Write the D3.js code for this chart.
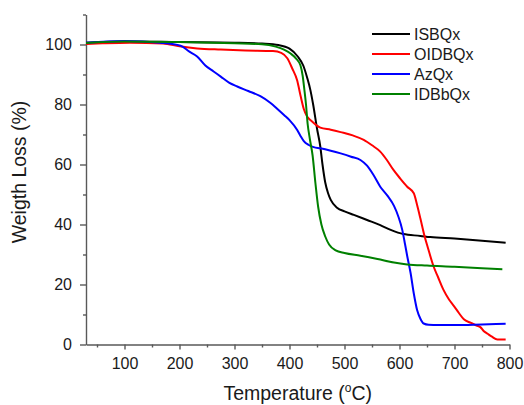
<!DOCTYPE html>
<html lang="en">
<head>
<meta charset="utf-8">
<title>TGA curves</title>
<script src="https://d3js.org/d3.v7.min.js"></script>
<style>
  body { margin: 0; background: #fff; }
  text { font-family: "Liberation Sans", Arial, sans-serif; fill: #1a1a1a; }
  .axis path, .axis line { stroke: #595959; stroke-width: 1.4; }
  .axis text { font-size: 16px; }
</style>
</head>
<body>
<script>
// data: [temperature, weight %]
const seriesNames = ["ISBQx", "OIDBQx", "AzQx", "IDBbQx"];
const seriesColors = ["#000000", "#ff0000", "#0000ff", "#008000"];

const isbqx = [[30,100.6],[100,101],[200,100.8],[300,100.6],[350,100.3],[380,99.8],[400,98.6],[415,96],[425,93],[432,89],[438,84.8],[443,80],[450,72],[456,66],[460,60],[465,54],[470,50.5],[475,48.2],[487,45.5],[500,44.4],[517,43.2],[541,41.5],[565,39.8],[584,38.2],[607,36.8],[638,36.2],[656,35.8],[700,35.3],[750,34.6],[793,33.9]];

const oidbqx = [[30,100.2],[60,100.4],[110,100.6],[170,100.3],[200,99.4],[232,98.7],[275,98.3],[320,98],[370,97.8],[385,97.2],[396,95.4],[405,92],[414,88],[420,83],[426,78.5],[432,76],[440,74.5],[456,72.3],[475,71.6],[493,70.8],[515,69.7],[535,68.2],[550,66.4],[565,64.3],[577,61.5],[589,58.2],[601,55.4],[614,52.6],[626,50.4],[632,46.5],[638,42],[645,36.5],[652,32],[662,26],[670,22.5],[680,18.2],[690,15],[699,12.8],[708,10.5],[717,8.4],[730,7.2],[740,6.3],[747,5.8],[753,4.5],[760,3.6],[768,2.6],[778,1.7],[793,1.7]];

const azqx = [[30,100.6],[100,101.2],[165,100.6],[202,99.6],[218,97.6],[232,96],[247,93],[262,91],[275,89.3],[290,87.3],[305,86],[325,84.5],[347,82.8],[365,80.6],[378,78.5],[390,76.5],[400,74.8],[414,71.5],[420,69.5],[426,67.8],[435,66.5],[444,65.8],[456,65.4],[475,64.6],[493,63.7],[512,62.6],[529,61.5],[541,59.6],[553,56.4],[565,52.6],[578,49.6],[590,46.2],[598,42.6],[605,38.2],[610,33.5],[614,29.5],[620,24],[626,17],[632,11.5],[638,8.6],[644,7],[653,6.6],[670,6.5],[700,6.5],[750,6.7],[793,6.9]];

const idbbqx = [[30,100.5],[100,101],[200,100.8],[300,100.4],[350,100.1],[375,99.3],[390,98.3],[402,97],[412,95.3],[420,93],[424,89.5],[427,85],[430,80],[433,73.5],[437,68.5],[442,63],[447,54],[452,46],[458,40],[465,36],[472,33.3],[484,31.4],[500,30.5],[529,29.6],[560,28.5],[590,27.3],[614,26.7],[650,26.3],[700,25.9],[750,25.4],[787,25.1]];

const allSeries = [isbqx, oidbqx, azqx, idbbqx];

const xMajorTicks = [100, 200, 300, 400, 500, 600, 700, 800];
const xMinorTicks = [50, 150, 250, 350, 450, 550, 650, 750];
const yMajorTicks = [0, 20, 40, 60, 80, 100];
const yMinorTicks = [10, 30, 50, 70, 90, 110];

const w = 524;
const h = 405;

const svg = d3.select("body")
  .append("svg")
  .attr("width", w)
  .attr("height", h);

const xScale = d3.scaleLinear()
  .domain([30, 800])
  .range([86, 509.5]);

const yScale = d3.scaleLinear()
  .domain([0, 110])
  .range([344.5, 14.5]);

// minor ticks first, then the major axes on top
svg.append("g")
  .attr("class", "axis")
  .attr("transform", "translate(0," + yScale(0) + ")")
  .call(d3.axisBottom(xScale).tickValues(xMinorTicks).tickSize(3).tickSizeOuter(0).tickFormat(""))
  .call(g => g.select(".domain").remove());

svg.append("g")
  .attr("class", "axis")
  .attr("transform", "translate(" + xScale(30) + ",0)")
  .call(d3.axisLeft(yScale).tickValues(yMinorTicks).tickSize(3).tickSizeOuter(0).tickFormat(""))
  .call(g => g.select(".domain").remove());

const xAxis = svg.append("g")
  .attr("class", "axis")
  .attr("transform", "translate(0," + yScale(0) + ")")
  .call(d3.axisBottom(xScale).tickValues(xMajorTicks).tickSize(5).tickSizeOuter(0).tickPadding(8));

const yAxis = svg.append("g")
  .attr("class", "axis")
  .attr("transform", "translate(" + xScale(30) + ",0)")
  .call(d3.axisLeft(yScale).tickValues(yMajorTicks).tickSize(6).tickSizeOuter(0).tickPadding(8));

xAxis.selectAll("text").attr("fill", "#1a1a1a");
yAxis.selectAll("text").attr("fill", "#1a1a1a");

const line = d3.line()
  .x(d => xScale(d[0]))
  .y(d => yScale(d[1]))
  .curve(d3.curveMonotoneX);

svg.selectAll(".curve")
  .data(allSeries)
  .enter()
  .append("path")
  .attr("class", "curve")
  .attr("fill", "none")
  .attr("stroke", (d, i) => seriesColors[i])
  .attr("stroke-width", 2)
  .attr("stroke-linejoin", "round")
  .attr("d", line);

// legend
const legend = svg.append("g");
seriesNames.forEach(function(name, i) {
  const yPos = 34 + i * 20;
  legend.append("line")
    .attr("x1", 372).attr("x2", 410)
    .attr("y1", yPos).attr("y2", yPos)
    .attr("stroke", seriesColors[i])
    .attr("stroke-width", 2);
  legend.append("text")
    .attr("x", 414)
    .attr("y", yPos + 6)
    .attr("font-size", "16px")
    .text(name);
});

// axis titles
const xTitle = svg.append("text")
  .attr("x", xScale(415))
  .attr("y", 400)
  .attr("text-anchor", "middle")
  .attr("font-size", "19.5px");
xTitle.append("tspan").text("Temperature (");
xTitle.append("tspan").attr("font-size", "12px").attr("dy", -8).text("o");
xTitle.append("tspan").attr("dy", 8).text("C)");

svg.append("text")
  .attr("transform", "translate(26," + yScale(57.5) + ") rotate(-90)")
  .attr("text-anchor", "middle")
  .attr("font-size", "19.5px")
  .text("Weigth Loss (%)");
</script>
</body>
</html>
